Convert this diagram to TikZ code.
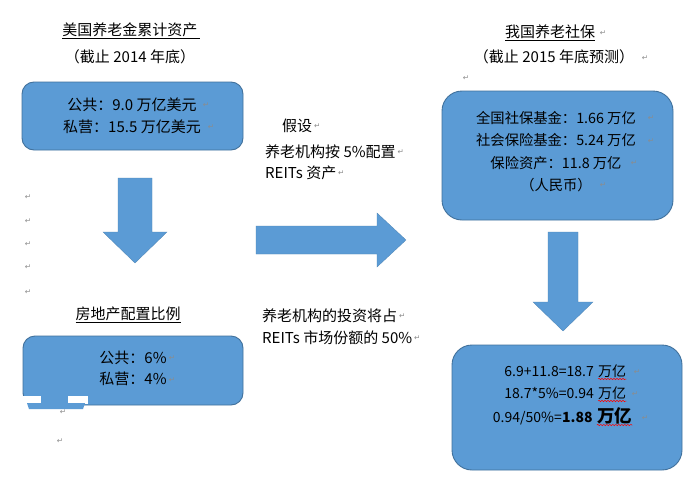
\documentclass[tikz,border=0pt]{standalone}
\usepackage{fontspec}
\setmainfont{Noto Sans CJK SC}
\newfontfamily\pmfont{DejaVu Sans}
\usetikzlibrary{positioning,decorations.pathmorphing}
\definecolor{boxfill}{HTML}{5B9BD5}
\definecolor{boxline}{HTML}{41719C}
\tikzset{
  bluebox/.style={draw=boxline,line width=0.9pt,fill=boxfill,inner sep=0pt},
  blockfill/.style={fill=boxfill,draw=boxfill!85!black,line width=0.3pt},
  boxtext/.style={align=center,inner sep=0pt,font={\fontsize{15}{22}\selectfont}},
  title/.style={inner sep=0pt,font={\fontsize{15}{16}\selectfont}},
  note/.style={inner sep=0pt,anchor=west,font={\fontsize{15}{16}\selectfont}},
  pm/.style={inner sep=0pt,text=black!45,font={\pmfont\fontsize{7.5}{8}\selectfont}},
  spell/.style={draw=red,line width=0.5pt,decorate,
    decoration={snake,segment length=3pt,amplitude=0.7pt}},
}
% block arrow pointing down: top, shaft half width, shaft length, head half width, length
\NewDocumentCommand{\downblock}{mmmmm}{%
\begin{scope}[shift={(#1)}]%chktex 36
\fill[blockfill] (-#2,0) -- (#2,0) -- (#2,#3) -- (#4,#3) -- (0,#5) -- (-#4,#3) -- (-#2,#3) -- cycle;%chktex 8
\end{scope}%
}
\begin{document}
\begin{tikzpicture}[x=1pt,y=-1pt]
\useasboundingbox[fill=white] (0,0) rectangle (683,482);

% US pension assets
\node[title] (ustitle) at (131,31) {\underline{美国养老金累计资产\,}};
\node[title] (ussub) at (130,57) {（截止 2014 年底）};
\node[bluebox,minimum width=221pt,minimum height=68pt,rounded corners=12pt] (usbox) at (132.5,116) {};
\node[boxtext] (ustext) at (132,116) {公共：9.0 万亿美元\\私营：15.5 万亿美元};

\downblock{135,178}{17}{54}{32}{85}

% real estate share
\node[title] (retitle) at (128,315) {\underline{房地产配置比例}};
\node[bluebox,minimum width=220pt,minimum height=69pt,rounded corners=12pt] (rebox) at (133,370.5) {};
\node[boxtext,font={\fontsize{15}{21}\selectfont}] (retext) at (133,368.5) {公共：6\%\\私营：4\%};
% torn corner of the lower box
\fill[white] (21,396) rectangle (41,403.5);
\fill[white] (68,396) rectangle (88,403.5);
\fill[boxfill] (27,403) -- (85,403) -- (83,409) -- (29,409) -- cycle;

% assumptions
\node[note] (assume) at (282,126) {假设};
\node[note] (assumeA) at (265,152) {养老机构按 5\%配置};
\node[note] (assumeB) at (265,173) {REITs 资产};
\node[note] (shareA) at (262,316) {养老机构的投资将占};
\node[note] (shareB) at (262,338) {REITs 市场份额的 50\%};
\foreach \t in {assume,assumeA,assumeB,shareA,shareB}
  \node[pm,right=1.5pt of \t] (pm\t) {↵};

\fill[blockfill] (256,226) -- (377,226) -- (377,213) -- (406,240) -- (377,267) -- (377,254) -- (256,254) -- cycle;

% China pension and social security
\node[title] (cntitle) at (550,33) {\underline{我国养老社保}};
\node[title] (cnsub) at (554,57) {（截止 2015 年底预测）};
\node[bluebox,minimum width=231pt,minimum height=129pt,rounded corners=20pt] (cnbox) at (557.5,155.5) {};
\node[boxtext,font={\fontsize{14.3}{22.5}\selectfont}] (cntext) at (556,151.5)
  {全国社保基金：1.66 万亿\\社会保险基金：5.24 万亿\\保险资产：11.8 万亿\\（人民币）};

\downblock{563,232}{15}{70}{30}{99}

% result
\node[bluebox,minimum width=230pt,minimum height=125pt,rounded corners=20pt] (resbox) at (567,407.5) {};
\tikzset{boxtext/.append style={font={\fontsize{14}{22}\selectfont}}}
\node[boxtext,anchor=base east] (calcA) at (594,376) {6.9+11.8=18.7};
\node[boxtext,anchor=base west] (wanA) at ([xshift=4pt]calcA.base east) {万亿};
\node[boxtext,anchor=base east] (calcB) at (594,398) {18.7*5\%=0.94};
\node[boxtext,anchor=base west] (wanB) at ([xshift=4pt]calcB.base east) {万亿};
\node[boxtext,anchor=base east] (calcC) at (562,422) {0.94/50\%=};
\node[boxtext,anchor=base west,font={\fontsize{14}{22}\selectfont\bfseries}] (sumC) at (calcC.base east) {1.88};
\node[boxtext,anchor=base west,font={\fontsize{17.5}{22}\selectfont\bfseries}] (wanC) at ([xshift=4pt]sumC.base east) {万亿};
\foreach \w in {wanA,wanB,wanC}
  \draw[spell] ([yshift=-3pt]\w.base west) -- ([yshift=-3pt]\w.base east);

% paragraph marks
\foreach \px/\py [count=\i] in {28/197,28/221,28/244,28/267,28/292,63/412,60/441,
    206/105,211/127,172/358,172/380,
    603/33,645/58,466/78,651/118,651/141,634/163,603/185,637/372,635/394,645/418}
  \node[pm] (pm\i) at (\px,\py) {↵};
\end{tikzpicture}
\end{document}
